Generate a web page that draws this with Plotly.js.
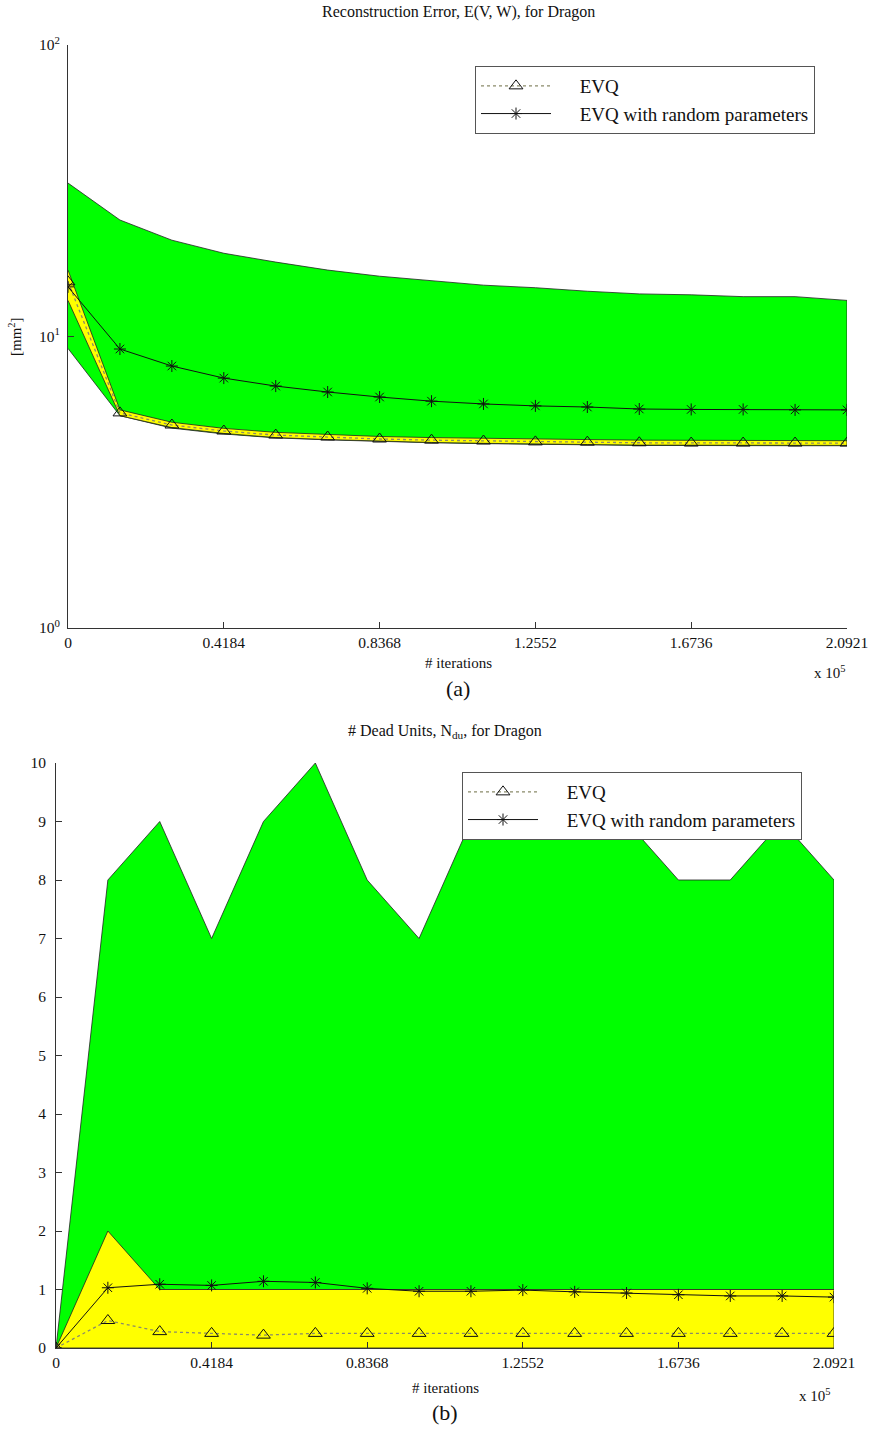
<!DOCTYPE html>
<html>
<head>
<meta charset="utf-8">
<script src="https://cdn.plot.ly/plotly-3.0.1.min.js"></script>
<style>html,body{margin:0;padding:0;background:#fff;}#chart{width:870px;height:1433px;}</style>
</head>
<body>
<div id="chart"></div>
<script>
// iterations (x 10^5)
const iters = [0, 0.13947, 0.27895, 0.41842, 0.55789, 0.69737, 0.83684, 0.97631, 1.11579, 1.25526, 1.39473, 1.53421, 1.67368, 1.81315, 1.95263, 2.09210];
const tickVals = [0, 0.4184, 0.8368, 1.2552, 1.6736, 2.0921];
const tickText = ["0", "0.4184", "0.8368", "1.2552", "1.6736", "2.0921"];

// (a) Reconstruction error [mm^2]
const errEVQ     = [15.4, 5.47, 4.97, 4.74, 4.59, 4.52, 4.45, 4.41, 4.38, 4.35, 4.34, 4.32, 4.31, 4.31, 4.31, 4.31];
const errEVQMax  = [16.9, 5.60, 5.08, 4.84, 4.69, 4.61, 4.54, 4.50, 4.47, 4.44, 4.43, 4.41, 4.40, 4.40, 4.40, 4.39];
const errEVQMin  = [13.3, 5.35, 4.87, 4.65, 4.50, 4.43, 4.37, 4.33, 4.30, 4.27, 4.26, 4.24, 4.23, 4.23, 4.23, 4.23];
const errRand    = [14.8, 9.06, 7.92, 7.20, 6.76, 6.45, 6.20, 6.00, 5.87, 5.78, 5.73, 5.64, 5.62, 5.62, 5.60, 5.60];
const errRandMax = [33.6, 25.1, 21.4, 19.3, 18.0, 16.9, 16.1, 15.5, 15.0, 14.7, 14.3, 14.0, 13.9, 13.7, 13.7, 13.3];
const errRandMin = [9.1, 5.35, 4.85, 4.63, 4.49, 4.42, 4.36, 4.32, 4.29, 4.26, 4.25, 4.23, 4.22, 4.22, 4.22, 4.22];

// (b) Number of dead units
const deadEVQ     = [0, 0.47, 0.28, 0.25, 0.22, 0.25, 0.25, 0.25, 0.25, 0.25, 0.25, 0.25, 0.25, 0.25, 0.25, 0.25];
const deadEVQMax  = [0, 2, 1, 1, 1, 1, 1, 1, 1, 1, 1, 1, 1, 1, 1, 1];
const deadEVQMin  = [0, 0, 0, 0, 0, 0, 0, 0, 0, 0, 0, 0, 0, 0, 0, 0];
const deadRand    = [0, 1.03, 1.09, 1.07, 1.14, 1.12, 1.02, 0.97, 0.97, 0.99, 0.96, 0.94, 0.91, 0.89, 0.89, 0.87];
const deadRandMax = [0, 8, 9, 7, 9, 10, 8, 7, 9, 9, 9, 9, 8, 8, 9, 8];
const deadRandMin = [0, 1, 1, 1, 1, 1, 1, 1, 1, 1, 1, 1, 1, 1, 1, 1];

const seriesNames = ["EVQ", "EVQ with random parameters"];
const FONT = "Liberation Serif, Times New Roman, serif";
const GREEN = "#00ff00", YELLOW = "#ffff00", EDGE = "#222";
const PAD = "\u00a0\u00a0\u00a0\u00a0\u00a0";

function band(xs, hi, lo, color, xa, ya) {
  return {
    x: xs.concat(xs.slice().reverse()),
    y: hi.concat(lo.slice().reverse()),
    xaxis: xa, yaxis: ya, type: "scatter", mode: "lines",
    fill: "toself", fillcolor: color,
    line: {color: EDGE, width: 0.8},
    showlegend: false, hoverinfo: "skip"
  };
}
function evq(ys, xa, ya, show) {
  return {
    x: iters, y: ys, xaxis: xa, yaxis: ya, type: "scatter", mode: "lines+markers",
    name: PAD + seriesNames[0], legend: show,
    line: {color: "#8a8a6a", width: 1.3, dash: "dot"},
    marker: {symbol: "triangle-up-open", size: 12, color: "#111", line: {width: 1, color: "#111"}}
  };
}
function rnd(ys, xa, ya, show) {
  return {
    x: iters, y: ys, xaxis: xa, yaxis: ya, type: "scatter", mode: "lines+markers",
    name: PAD + seriesNames[1], legend: show,
    line: {color: "#111", width: 1},
    marker: {symbol: "asterisk-open", size: 10, color: "#111", line: {width: 1, color: "#111"}}
  };
}

const data = [
  band(iters, errRandMax, errRandMin, GREEN, "x", "y"),
  band(iters, errEVQMax, errEVQMin, YELLOW, "x", "y"),
  evq(errEVQ, "x", "y", "legend"),
  rnd(errRand, "x", "y", "legend"),
  band(iters, deadRandMax, deadRandMin, GREEN, "x2", "y2"),
  band(iters, deadEVQMax, deadEVQMin, YELLOW, "x2", "y2"),
  evq(deadEVQ, "x2", "y2", "legend2"),
  rnd(deadRand, "x2", "y2", "legend2")
];

const H = 1433, W = 870;
const px = v => v / W, py = v => 1 - v / H;

const axisCommon = {
  showgrid: false, zeroline: false, showline: true, linecolor: "#333", linewidth: 1,
  ticks: "inside", ticklen: 6, tickcolor: "#333", mirror: false,
  tickfont: {family: FONT, size: 15.5, color: "#111"}
};

const legendCommon = {
  bgcolor: "#fff", bordercolor: "#555", borderwidth: 1,
  font: {family: FONT, size: 19, color: "#111"},
  xanchor: "left", yanchor: "top", tracegroupgap: 0, itemwidth: 70
};

function note(text, x, y, size, extra) {
  return Object.assign({text: text, x: px(x), y: py(y), xref: "paper", yref: "paper", showarrow: false,
    xanchor: "center", yanchor: "middle", font: {size: size}}, extra || {});
}

const layout = {
  width: W, height: H,
  margin: {l: 0, r: 0, t: 0, b: 0},
  paper_bgcolor: "#fff", plot_bgcolor: "#fff",
  font: {family: FONT, color: "#111"},
  xaxis: Object.assign({}, axisCommon, {domain: [px(68), px(847)], range: [0, 2.0921], tickvals: tickVals, ticktext: tickText, anchor: "y"}),
  yaxis: Object.assign({}, axisCommon, {domain: [py(628), py(45)], type: "log", range: [0, 2], tickvals: [1, 10, 100], ticktext: ["10<sup>0</sup>", "10<sup>1</sup>", "10<sup>2</sup>"], anchor: "x", ticklabelstandoff: 4}),
  xaxis2: Object.assign({}, axisCommon, {domain: [px(56), px(834)], range: [0, 2.0921], tickvals: tickVals, ticktext: tickText, anchor: "y2"}),
  yaxis2: Object.assign({}, axisCommon, {domain: [py(1348), py(763)], range: [0, 10], tickvals: [0,1,2,3,4,5,6,7,8,9,10], anchor: "x2", ticklabelstandoff: 6}),
  legend: Object.assign({}, legendCommon, {x: px(475), y: py(66)}),
  legend2: Object.assign({}, legendCommon, {x: px(462), y: py(772)}),
  annotations: [
    note("Reconstruction Error, E(V, W), for Dragon", 458, 12, 16),
    note("# iterations", 458, 663, 15),
    note("x 10<sup>5</sup>", 830, 672, 15),
    note("(a)", 458, 688, 22),
    note("[mm<sup>2</sup>]", 15, 337, 15, {textangle: -90}),
    note("# Dead Units, N<sub>du</sub>, for Dragon", 445, 731, 16),
    note("# iterations", 445, 1388, 15),
    note("x 10<sup>5</sup>", 815, 1395, 15),
    note("(b)", 445, 1412, 22)
  ]
};

Plotly.newPlot("chart", data, layout, {staticPlot: true});
</script>
</body>
</html>
